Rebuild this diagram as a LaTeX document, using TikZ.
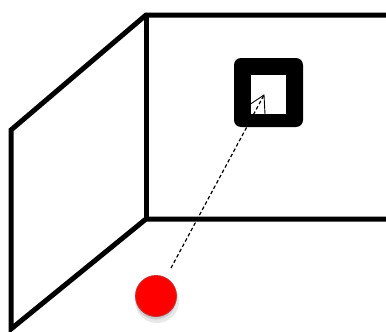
\documentclass[tikz,border=0pt]{standalone}
\usepackage{tikz}
\usetikzlibrary{calc}
\definecolor{BallRed}{HTML}{FF0000}
\definecolor{BallEdge}{HTML}{C83232}
\definecolor{Shade}{HTML}{8C8C8C}

\begin{document}
\begin{tikzpicture}[x=1pt,y=-1pt,
  wall/.style={line width=5pt,line join=miter,draw=black},
  frame/.style={fill=black,rounded corners=7pt},
  pane/.style={fill=white},
  beam/.style={line width=1.2pt,dash pattern=on 3.6pt off 2.4pt},
  cone/.style={line width=0.9pt},
  ball/.style={circle,fill=BallRed,draw=BallEdge,line width=0.9pt,minimum size=41pt,inner sep=0pt}
]
\useasboundingbox (0,0) rectangle (386,332);
% corners of the room
\coordinate (lt) at (11,130);
\coordinate (lb) at (11,329);
\coordinate (ct) at (146,15);
\coordinate (cb) at (146,219);
\coordinate (rt) at (390,15);
\coordinate (rb) at (390,219);
\draw[wall] (rt) -- (ct) -- (lt) -- (lb) -- (cb) -- (rb);
\draw[wall] (ct) -- (cb);
% window on the back wall
\fill[frame] (234,58) rectangle (303,127);
\fill[pane] (251,75) rectangle (286,114);
\coordinate (apex) at (264,95);
\draw[cone] (249,105) -- (apex) -- (265,114);
% ball and its line of sight
\fill[Shade,opacity=0.2] (157,301) circle (22);
\fill[Shade,opacity=0.3] (156,299) circle (20.5);
\node[ball] (dot) at (156,296) {};
\coordinate (foot) at (171,268);
\draw[beam] (foot) -- (apex);
\end{tikzpicture}
\end{document}
